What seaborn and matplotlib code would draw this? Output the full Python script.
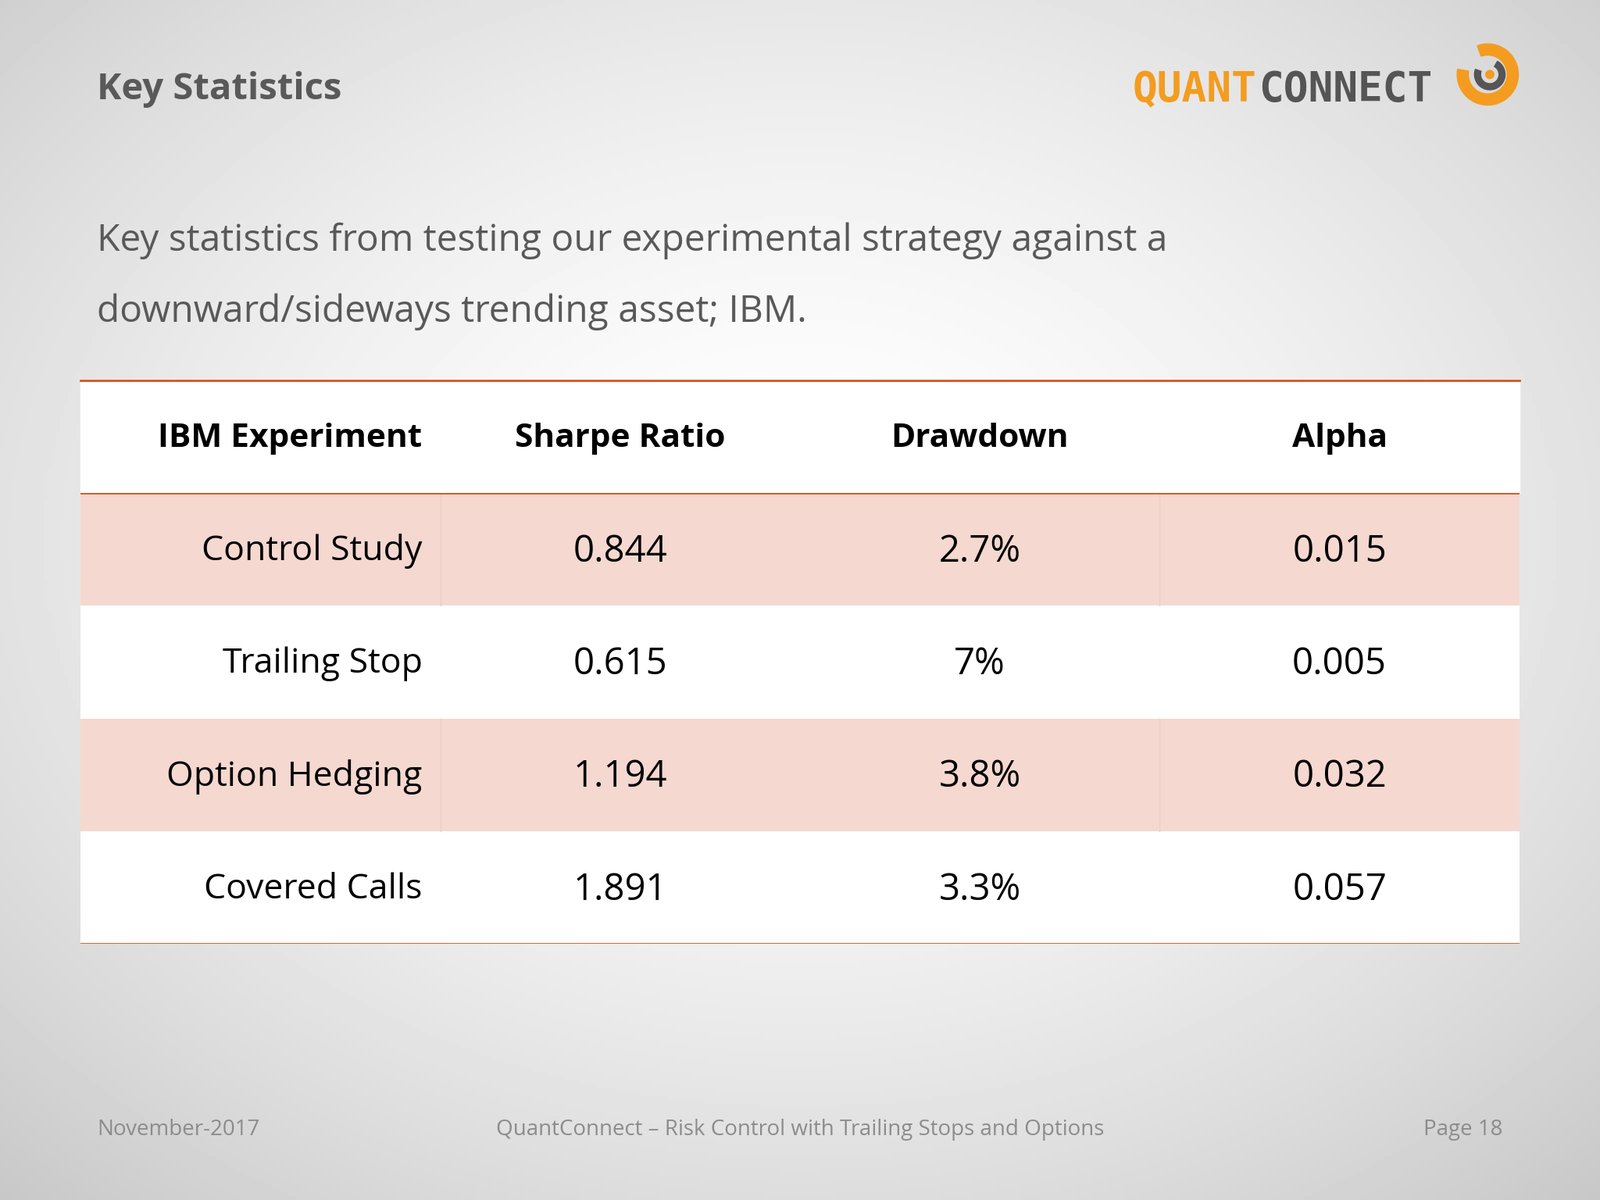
import numpy as np
import matplotlib
matplotlib.use("Agg")
import matplotlib.pyplot as plt
import matplotlib.patches as mpatches
import seaborn as sns

# ---- data ----
columns = ["IBM Experiment", "Sharpe Ratio", "Drawdown", "Alpha"]
experiments = ["Control Study", "Trailing Stop", "Option Hedging", "Covered Calls"]
sharpe = ["0.844", "0.615", "1.194", "1.891"]
drawdown = ["2.7%", "7%", "3.8%", "3.3%"]
alpha = ["0.015", "0.005", "0.032", "0.057"]

W, H = 1568.0, 1176.0  # reference layout units
FONT = "Open Sans"
ORANGE = "#d9541e"

fig = plt.figure(figsize=(20.48, 15.36), dpi=100)

# background radial gradient
bg = fig.add_axes([0, 0, 1, 1])
yy, xx = np.mgrid[0:1:300j, 0:1:400j]
r = np.sqrt(((xx - 0.5) / 0.75) ** 2 + ((yy - 0.45) / 0.75) ** 2)
bg.imshow(1 - 0.22 * np.clip(r, 0, 1) ** 1.6, cmap="gray", vmin=0, vmax=1,
          extent=[0, W, H, 0], aspect="auto")
bg.set_xlim(0, W)
bg.set_ylim(H, 0)
bg.axis("off")

# titles
bg.text(95, 88, "Key Statistics", fontsize=34, fontweight="bold", color="#595959",
        family=FONT, va="center")
bg.text(95, 236, "Key statistics from testing our experimental strategy against a",
        fontsize=34.5, color="#595959", family=FONT, va="center")
bg.text(95, 306, "downward/sideways trending asset; IBM.",
        fontsize=34.5, color="#595959", family=FONT, va="center")

# logo
t1 = bg.text(1110, 88, "QUANT", fontsize=38, fontweight="bold", color="#f39c1f",
             family="DejaVu Sans Mono", va="center")
bg.annotate("CONNECT", xy=(1, 0.5), xycoords=t1, xytext=(2, 0),
            textcoords="offset points", fontsize=38, fontweight="bold",
            color="#555555", family="DejaVu Sans Mono", va="center")
bg.add_patch(mpatches.Wedge((1458, 73), 30, 250, 190, width=11, color="#f39c1f"))
bg.add_patch(mpatches.Wedge((1460, 73), 15, 300, 200, width=6, color="#555555"))
bg.add_patch(mpatches.Circle((1460, 73), 4, color="#f39c1f"))

# footer
bg.text(95, 1107, "November-2017", fontsize=20, color="#8c8c8c", family=FONT, va="center")
bg.text(784, 1107, "QuantConnect \u2013 Risk Control with Trailing Stops and Options",
        fontsize=20, color="#8c8c8c", family=FONT, va="center", ha="center")
bg.text(1473, 1107, "Page 18", fontsize=20, color="#8c8c8c", family=FONT,
        va="center", ha="right")

# table body via seaborn heatmap
x0, x1 = 79, 1489
y_head, y_body, y_end = 373, 483, 925
ax = fig.add_axes([x0 / W, 1 - y_end / H, (x1 - x0) / W, (y_end - y_body) / H])
shade = np.array([[1, 1, 1, 1], [0, 0, 0, 0], [1, 1, 1, 1], [0, 0, 0, 0]])
cmap = matplotlib.colors.ListedColormap(["#ffffff", "#f5d8d0"])
sns.heatmap(shade, cmap=cmap, cbar=False, ax=ax, xticklabels=False,
            yticklabels=False, linewidths=0, vmin=0, vmax=1)
for i in (0, 2):
    for xv in (1, 3):
        ax.plot([xv, xv], [i, i + 1], color="#ead0c8", lw=1)
rows = list(zip(experiments, sharpe, drawdown, alpha))
for i, row in enumerate(rows):
    ax.text(0.95, i + 0.52, row[0], ha="right", va="center", fontsize=32,
            family=FONT, color="black")
    for j, val in enumerate(row[1:], start=1):
        ax.text(j + 0.5, i + 0.52, val, ha="center", va="center", fontsize=34,
                family=FONT, color="black")
ax.axhline(0, color=ORANGE, lw=2)
ax.axhline(4, color=ORANGE, lw=2)
for s in ax.spines.values():
    s.set_visible(False)

# header
bg.add_patch(mpatches.Rectangle((x0, y_head), x1 - x0, y_body - y_head, color="white"))
bg.plot([x0, x1], [y_head, y_head], color=ORANGE, lw=2)
cw = (x1 - x0) / 4
bg.text(x0 + 0.95 * cw, 430, columns[0], ha="right", va="center", fontsize=30.5,
        fontweight="bold", family=FONT)
for j in range(1, 4):
    bg.text(x0 + (j + 0.5) * cw, 430, columns[j], ha="center", va="center",
            fontsize=30.5, fontweight="bold", family=FONT)

fig.savefig("out.png", dpi=100)
